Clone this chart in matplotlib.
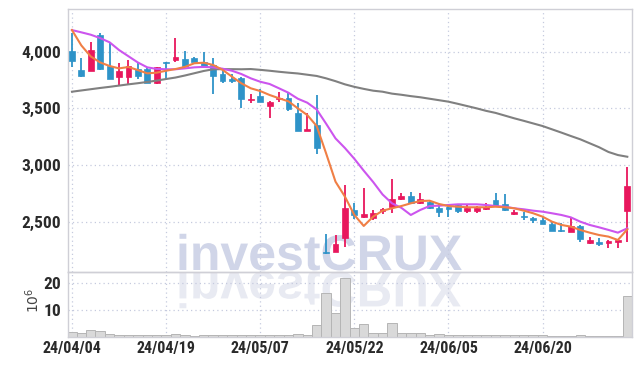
import numpy as np
import matplotlib
matplotlib.use("Agg")
import matplotlib.pyplot as plt
from matplotlib.textpath import TextPath
from matplotlib.patches import PathPatch
from matplotlib.font_manager import FontProperties, fontManager
from matplotlib.transforms import Affine2D, IdentityTransform

# daily candles, 24/04/04 .. 24/07/03 (60 trading days)
opens = [4009, 3838, 3832, 4147, 3876, 3774, 3780, 3845, 3847, 3721,
         3903, 3927, 3933, 3942, 3912, 3883, 3803, 3750, 3765, 3575,
         3609, 3521, 3582, 3589, 3458, 3303, 3353, 2232, 2235, 2353,
         2603, 2538, 2530, 2598, 2632, 2697, 2730, 2667, 2676, 2618,
         2622, 2647, 2597, 2597, 2609, 2691, 2656, 2565, 2546, 2523,
         2515, 2479, 2422, 2411, 2462, 2309, 2323, 2309, 2318, 2597]
highs = [4165, 3942, 4088, 4162, 4080, 3898, 3927, 3898, 3853, 3868,
         3912, 4118, 4009, 3950, 4000, 3942, 3845, 3800, 3774, 3624,
         3671, 3568, 3647, 3633, 3547, 3456, 3618, 2390, 2382, 2824,
         2667, 2794, 2603, 2620, 2874, 2750, 2759, 2750, 2690, 2653,
         2638, 2660, 2653, 2640, 2662, 2750, 2744, 2600, 2588, 2544,
         2540, 2497, 2485, 2530, 2471, 2368, 2353, 2340, 2345, 2985]
lows = [3865, 3780, 3830, 3840, 3760, 3706, 3706, 3756, 3721, 3718,
        3750, 3912, 3874, 3906, 3868, 3624, 3727, 3727, 3500, 3545,
        3559, 3412, 3559, 3477, 3300, 3300, 3097, 2218, 2233, 2279,
        2521, 2536, 2512, 2570, 2574, 2690, 2660, 2656, 2612, 2544,
        2544, 2580, 2574, 2574, 2600, 2636, 2597, 2563, 2515, 2485,
        2477, 2416, 2411, 2409, 2323, 2307, 2285, 2265, 2265, 2323]
closes = [3918, 3785, 4015, 3845, 3762, 3830, 3873, 3786, 3727, 3862,
          3898, 3950, 3876, 3906, 3868, 3788, 3741, 3744, 3580, 3582,
          3559, 3556, 3588, 3492, 3303, 3312, 3153, 2220, 2301, 2618,
          2559, 2568, 2574, 2606, 2700, 2727, 2662, 2697, 2618, 2588,
          2616, 2597, 2618, 2624, 2632, 2638, 2603, 2588, 2542, 2519,
          2479, 2418, 2418, 2462, 2347, 2338, 2300, 2332, 2338, 2815]

ma_short = [4191, 4055, 3958, 3905, 3874, 3853, 3865, 3838, 3809, 3815,
            3832, 3847, 3866, 3898, 3903, 3883, 3840, 3780, 3721, 3677,
            3653, 3618, 3589, 3562, 3500, 3441, 3344, 3103, 2853, 2721,
            2559, 2462, 2544, 2597, 2618, 2638, 2662, 2682, 2685, 2656,
            2638, 2632, 2627, 2627, 2627, 2632, 2627, 2618, 2597, 2574,
            2544, 2500, 2471, 2456, 2427, 2403, 2382, 2368, 2338, 2432]
ma_mid = [4191, 4171, 4150, 4120, 4083, 4015, 3960, 3905, 3862, 3848,
          3845, 3845, 3853, 3862, 3866, 3862, 3850, 3832, 3803, 3765,
          3735, 3715, 3677, 3638, 3585, 3550, 3490, 3365, 3235, 3150,
          3055, 2950, 2850, 2740, 2662, 2622, 2559, 2603, 2638, 2641,
          2647, 2653, 2653, 2653, 2647, 2638, 2632, 2618, 2609, 2597,
          2588, 2574, 2559, 2538, 2500, 2471, 2450, 2427, 2403, 2441]
ma_long = [3647, 3658, 3669, 3680, 3690, 3701, 3712, 3722, 3733, 3745,
           3759, 3772, 3790, 3810, 3830, 3845, 3846, 3846, 3845, 3847,
           3840, 3832, 3823, 3815, 3808, 3797, 3786, 3765, 3740, 3712,
           3690, 3672, 3656, 3647, 3630, 3620, 3608, 3598, 3585, 3572,
           3559, 3540, 3520, 3500, 3478, 3460, 3436, 3412, 3390, 3367,
           3344, 3315, 3286, 3256, 3227, 3192, 3157, 3115, 3088, 3073]

volume = [1.7, 1.4, 2.5, 2.1, 1.1, 0.7, 0.7, 0.5, 0.7, 0.5,
          0.7, 1.1, 0.7, 0.4, 0.5, 0.7, 0.5, 0.7, 0.7, 0.5,
          0.7, 0.7, 0.7, 0.5, 1.1, 0.8, 4.4, 16.2, 8.8, 21.7,
          3.2, 4.7, 1.4, 1.4, 5.1, 1.4, 1.2, 1.2, 0.7, 1.1,
          0.5, 0.5, 0.5, 0.5, 0.5, 0.7, 0.5, 0.5, 0.5, 0.5,
          0.5, 0.1, 0.3, 0.3, 0.7, 0.3, 0.3, 0.3, 0.3, 15.1]

tick_pos = [0, 10, 20, 30, 40, 50]
tick_labels = ["24/04/04", "24/04/19", "24/05/07", "24/05/22", "24/06/05", "24/06/20"]

UP = "#e8175d"
DOWN = "#2e93c8"
GRID = "#c5cade"
FRAME = "#cfcfd6"
TXT = "#2a2a2a"

# pick a narrow face for the tick labels if one is installed
names = {f.name for f in fontManager.ttflist}
narrow = None
for cand in ["Liberation Sans Narrow", "DejaVu Sans Condensed", "Roboto Condensed",
             "Open Sans Condensed", "Noto Sans Condensed"]:
    if cand in names:
        narrow = cand
        break
if narrow:
    yfont = FontProperties(family=narrow, weight="bold", size=12.5)
    xfont = FontProperties(family=narrow, weight="bold", size=11.5)
else:
    yfont = FontProperties(family="DejaVu Sans", weight="bold", stretch="condensed", size=10.5)
    xfont = FontProperties(family="DejaVu Sans", weight="bold", stretch="condensed", size=9.5)

x = np.arange(len(opens))
o = np.array(opens, float)
c = np.array(closes, float)
cols = [UP if cc >= oo else DOWN for oo, cc in zip(o, c)]

fig = plt.figure(figsize=(6.42, 3.66), dpi=100)
fig.patch.set_facecolor("white")
L, R = 68 / 642, 632 / 642
ax = fig.add_axes([L, 1 - 272.3 / 366, R - L, (272.3 - 9) / 366])
axv = fig.add_axes([L, 1 - 336.7 / 366, R - L, (336.7 - 272.3) / 366], sharex=ax)

# watermark + reflection, behind the axes
fp = FontProperties(family="Liberation Sans", weight="bold")
tp = TextPath((0, 0), "investCRUX", size=50, prop=fp)
wm = PathPatch(tp, transform=Affine2D().translate(176, 366 - 270) + IdentityTransform(),
               facecolor="#d0d5e8", edgecolor="none", zorder=-5)
wr = PathPatch(tp, transform=Affine2D().scale(1, -1).translate(176, 366 - 272) + IdentityTransform(),
               facecolor="#e8eaf2", edgecolor="none", zorder=-5)
fig.patches.extend([wm, wr])

for a in (ax, axv):
    a.set_facecolor("none")
    for s in a.spines.values():
        s.set_color(FRAME)
        s.set_linewidth(1.0)
    a.grid(True, linestyle=(0, (1, 2.5)), color=GRID, linewidth=0.9)
    a.set_axisbelow(True)
    a.tick_params(length=0, colors=TXT)

# candles
ax.vlines(x, lows, highs, colors=cols, linewidth=1.3, zorder=2)
body_lo = np.minimum(o, c)
body_h = np.maximum(np.abs(c - o), 12)
ax.bar(x, body_h, bottom=body_lo, width=0.62, color=cols, edgecolor=cols, linewidth=0.5, zorder=3)

ax.plot(x, ma_long, color="#808080", linewidth=1.5, zorder=4)
ax.plot(x, ma_mid, color="#cc55ee", linewidth=1.5, zorder=4)
ax.plot(x, ma_short, color="#f07f45", linewidth=1.5, zorder=5)

ax.set_ylim(2053, 4377)
ax.set_yticks([2500, 3000, 3500, 4000])
ax.set_yticklabels(["2,500", "3,000", "3,500", "4,000"], fontproperties=yfont)
ax.tick_params(axis="y", pad=5)
ax.set_xlim(-0.42, 59.5)
plt.setp(ax.get_xticklabels(), visible=False)

axv.bar(x, volume, width=1.0, color="#d9d9d9", edgecolor="#b5b5b5", linewidth=0.7, zorder=2)
axv.set_ylim(0, 24)
axv.set_yticks([10, 20])
axv.set_yticklabels(["10", "20"], fontproperties=yfont)
axv.tick_params(axis="y", pad=5)
axv.set_xticks(tick_pos)
axv.set_xticklabels(tick_labels, fontproperties=xfont)
axv.tick_params(axis="x", pad=3)
fig.text(33 / 642, 1 - 300 / 366, r"$10^6$", rotation=90, ha="center", va="center",
         fontsize=10, color="#444444")

fig.savefig("out.png", dpi=100)
